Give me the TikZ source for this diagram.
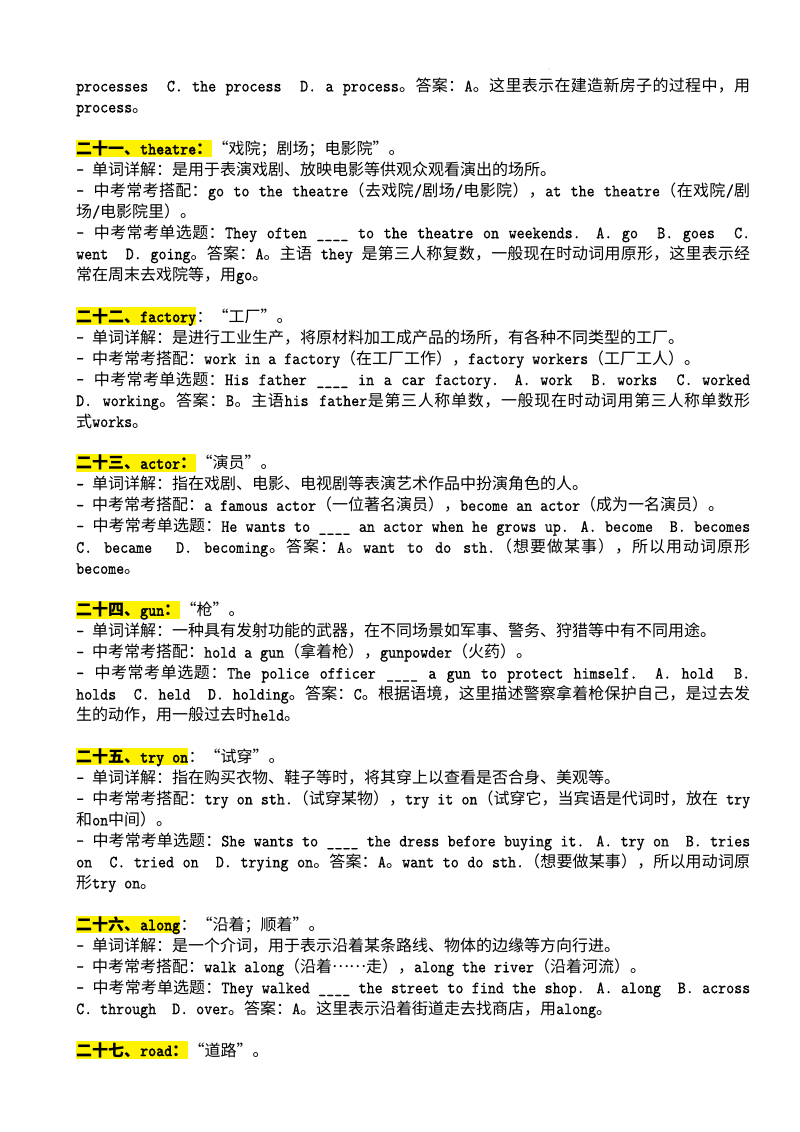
\documentclass[tikz,border=0pt]{standalone}
\usepackage{fontspec}
\newfontfamily\lat{lmmono10-regular.otf}[Scale=1.08,FakeStretch=0.8818,BoldFont=lmmonolt10-bold.otf,UprightFeatures={FakeBold=0.6},BoldFeatures={FakeBold=1.2}]
\newfontfamily\cjk{Noto Sans CJK SC}[RawFeature=+fwid]
% automatic switching between Latin and CJK fonts
\XeTeXinterchartokenstate=1
\newXeTeXintercharclass\cjkcls
\newcount\cc
\newcommand\setcls[3]{\cc=#1\relax\loop\XeTeXcharclass\cc=#3\relax\advance\cc by 1\relax\ifnum\cc<#2\repeat}
\setcls{"20}{"7F}{0}
\setcls{"4E00}{"A000}{\cjkcls}
\setcls{"3000}{"3040}{\cjkcls}
\setcls{"FF00}{"FFF0}{\cjkcls}
\XeTeXcharclass"2018=\cjkcls
\XeTeXcharclass"2019=\cjkcls
\XeTeXcharclass"201C=\cjkcls
\XeTeXcharclass"201D=\cjkcls
\XeTeXcharclass"2026=\cjkcls
\XeTeXcharclass"2014=\cjkcls
\XeTeXinterchartoks 0 \cjkcls = {\hskip0pt plus 1pt\relax\cjk}
\XeTeXinterchartoks 4095 \cjkcls = {\cjk}
\XeTeXinterchartoks \cjkcls 0 = {\lat\hskip0pt plus 1pt\relax}
\XeTeXinterchartoks \cjkcls 4095 = {\lat}
\XeTeXinterchartoks \cjkcls \cjkcls = {\hskip0pt plus 1pt\relax}
\AtBeginDocument{{\lat\fontsize{16pt}{21pt}\selectfont\global\fontdimen2\font=8pt\global\fontdimen3\font=4pt\global\fontdimen4\font=2pt}}
\newcommand\J[1]{\hbox to 674pt{#1}}
\newcommand\midell{\raisebox{5pt}{……}}
\begin{document}
\begin{tikzpicture}[x=1pt,y=1pt,
  txt/.style={inner sep=0pt, anchor=base west, text=black, font=\lat\fontsize{16pt}{21pt}\selectfont},
  hl/.style={txt, fill=yellow, text height=14.7pt, text depth=2.8pt, font=\lat\fontsize{16pt}{21pt}\selectfont\bfseries},
  speck/.style={fill=black!25, draw=none, circle, inner sep=0pt, minimum size=1.3pt}]
\fill[white] (0,0) rectangle (800,-1132);
\useasboundingbox (0,0) rectangle (800,-1132);
\node[speck] (dot) at (549,-69) {};
% rows: baseline y = 91.5 + 20.97 n
\node[txt] (r0) at (76,-91.5-20.97*0) {\J{processes\ \ C. the process\ \ D. a process。答案：A。这里表示在建造新房子的过程中，用}};
\node[txt] (r1) at (76,-91.5-20.97*1) {process。};
% 21
\node[hl] (h21) at (76,-91.5-20.97*3) {二十一、theatre：};
\node[txt] (h21t) at (h21.base east) {“戏院；剧场；电影院”。};
\node[txt] (r4) at (76,-91.5-20.97*4) {- 单词详解：是用于表演戏剧、放映电影等供观众观看演出的场所。};
\node[txt] (r5) at (76,-91.5-20.97*5) {\J{- 中考常考搭配：go to the theatre（去戏院/剧场/电影院），at the theatre（在戏院/剧}};
\node[txt] (r6) at (76,-91.5-20.97*6) {场/电影院里）。};
\node[txt] (r7) at (76,-91.5-20.97*7) {\J{- 中考常考单选题：They often \_\_\_\_ to the theatre on weekends. A. go\ \ B. goes\ \ C.}};
\node[txt] (r8) at (76,-91.5-20.97*8) {\J{went\ \ D. going。答案：A。主语 they 是第三人称复数，一般现在时动词用原形，这里表示经}};
\node[txt] (r9) at (76,-91.5-20.97*9) {常在周末去戏院等，用go。};
% 22
\node[hl] (h22) at (76,-91.5-20.97*11) {二十二、factory};
\node[txt] (h22t) at (h22.base east) {：“工厂”。};
\node[txt] (r12) at (76,-91.5-20.97*12) {- 单词详解：是进行工业生产，将原材料加工成产品的场所，有各种不同类型的工厂。};
\node[txt] (r13) at (76,-91.5-20.97*13) {- 中考常考搭配：work in a factory（在工厂工作），factory workers（工厂工人）。};
\node[txt] (r14) at (76,-91.5-20.97*14) {\J{- 中考常考单选题：His father \_\_\_\_ in a car factory. A. work\ \ B. works\ \ C. worked}};
\node[txt] (r15) at (76,-91.5-20.97*15) {\J{D. working。答案：B。主语his father是第三人称单数，一般现在时动词用第三人称单数形}};
\node[txt] (r16) at (76,-91.5-20.97*16) {式works。};
% 23
\node[hl] (h23) at (76,-91.5-20.97*18) {二十三、actor：};
\node[txt] (h23t) at (h23.base east) {“演员”。};
\node[txt] (r19) at (76,-91.5-20.97*19) {- 单词详解：指在戏剧、电影、电视剧等表演艺术作品中扮演角色的人。};
\node[txt] (r20) at (76,-91.5-20.97*20) {- 中考常考搭配：a famous actor（一位著名演员），become an actor（成为一名演员）。};
\node[txt] (r21) at (76,-91.5-20.97*21) {\J{- 中考常考单选题：He wants to \_\_\_\_ an actor when he grows up. A. become\ \ B. becomes}};
\node[txt] (r22) at (76,-91.5-20.97*22) {\J{C. became\ \ D. becoming。答案：A。want to do sth.（想要做某事），所以用动词原形}};
\node[txt] (r23) at (76,-91.5-20.97*23) {become。};
% 24
\node[hl] (h24) at (76,-91.5-20.97*25) {二十四、gun：};
\node[txt] (h24t) at (h24.base east) {“枪”。};
\node[txt] (r26) at (76,-91.5-20.97*26) {- 单词详解：一种具有发射功能的武器，在不同场景如军事、警务、狩猎等中有不同用途。};
\node[txt] (r27) at (76,-91.5-20.97*27) {- 中考常考搭配：hold a gun（拿着枪），gunpowder（火药）。};
\node[txt] (r28) at (76,-91.5-20.97*28) {\J{- 中考常考单选题：The police officer \_\_\_\_ a gun to protect himself. A. hold\ \ B.}};
\node[txt] (r29) at (76,-91.5-20.97*29) {\J{holds\ \ C. held\ \ D. holding。答案：C。根据语境，这里描述警察拿着枪保护自己，是过去发}};
\node[txt] (r30) at (76,-91.5-20.97*30) {生的动作，用一般过去时held。};
% 25
\node[hl] (h25) at (76,-91.5-20.97*32) {二十五、try on};
\node[txt] (h25t) at (h25.base east) {：“试穿”。};
\node[txt] (r33) at (76,-91.5-20.97*33) {- 单词详解：指在购买衣物、鞋子等时，将其穿上以查看是否合身、美观等。};
\node[txt] (r34) at (76,-91.5-20.97*34) {\J{- 中考常考搭配：try on sth.（试穿某物），try it on（试穿它，当宾语是代词时，放在 try}};
\node[txt] (r35) at (76,-91.5-20.97*35) {和on中间）。};
\node[txt] (r36) at (76,-91.5-20.97*36) {\J{- 中考常考单选题：She wants to \_\_\_\_ the dress before buying it. A. try on\ \ B. tries}};
\node[txt] (r37) at (76,-91.5-20.97*37) {\J{on\ \ C. tried on\ \ D. trying on。答案：A。want to do sth.（想要做某事），所以用动词原}};
\node[txt] (r38) at (76,-91.5-20.97*38) {形try on。};
% 26
\node[hl] (h26) at (76,-91.5-20.97*40) {二十六、along};
\node[txt] (h26t) at (h26.base east) {：“沿着；顺着”。};
\node[txt] (r41) at (76,-91.5-20.97*41) {- 单词详解：是一个介词，用于表示沿着某条路线、物体的边缘等方向行进。};
\node[txt] (r42) at (76,-91.5-20.97*42) {- 中考常考搭配：walk along（沿着\midell 走），along the river（沿着河流）。};
\node[txt] (r43) at (76,-91.5-20.97*43) {\J{- 中考常考单选题：They walked \_\_\_\_ the street to find the shop. A. along\ \ B. across}};
\node[txt] (r44) at (76,-91.5-20.97*44) {C. through\ \ D. over。答案：A。这里表示沿着街道走去找商店，用along。};
% 27
\node[hl] (h27) at (76,-91.5-20.97*46) {二十七、road：};
\node[txt] (h27t) at (h27.base east) {“道路”。};
\end{tikzpicture}
\end{document}
